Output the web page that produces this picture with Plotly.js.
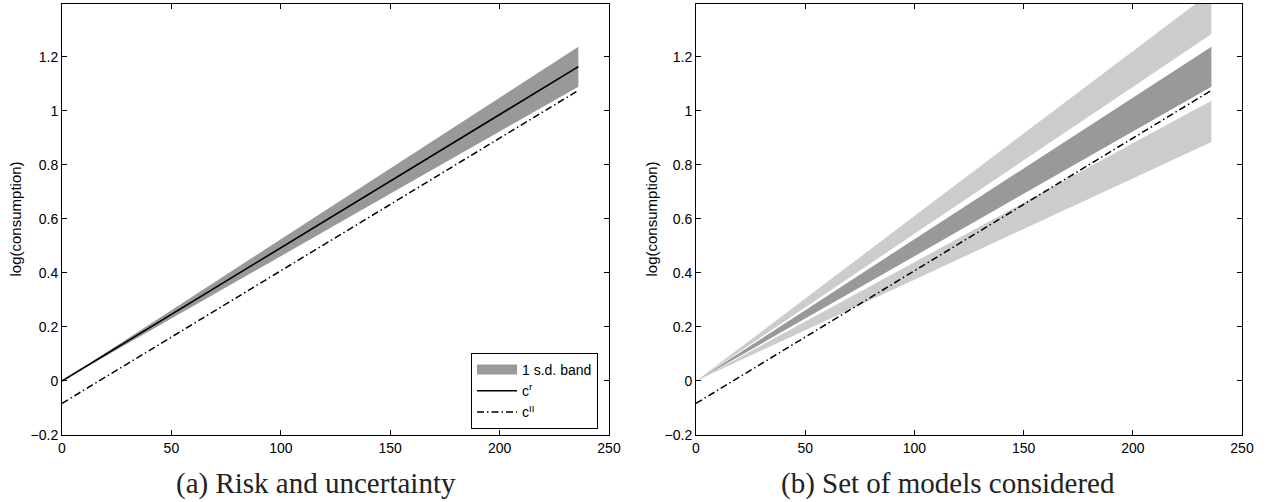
<!DOCTYPE html>
<html>
<head>
<meta charset="utf-8">
<script src="https://cdn.plot.ly/plotly-3.0.1.min.js"></script>
<style>html,body{margin:0;padding:0;background:#fff;}#chart{width:1271px;height:502px;}</style>
</head>
<body>
<div id="chart"></div>
<script>
// Time (periods)
const x = [0, 50, 100, 150, 200, 236];
// Panel (a): risk and uncertainty
const cR = [0, 0.247, 0.493, 0.740, 0.986, 1.164];
const sdUpper = [0, 0.262, 0.525, 0.787, 1.049, 1.238];
const sdLower = [0, 0.231, 0.462, 0.693, 0.924, 1.090];
const cII = [-0.083, 0.162, 0.408, 0.653, 0.899, 1.076];
// Panel (b): set of models considered
const wideUpperTop = [0, 0.305, 0.611, 0.916, 1.221, 1.441];
const wideUpperBottom = [0, 0.272, 0.545, 0.817, 1.089, 1.285];
const wideLowerTop = [0, 0.220, 0.440, 0.660, 0.880, 1.038];
const wideLowerBottom = [0, 0.188, 0.375, 0.563, 0.750, 0.885];
// Tick labels
const yTicks = [-0.2, 0, 0.2, 0.4, 0.6, 0.8, 1, 1.2];
const yTickText = ['\u22120.2', '0', '0.2', '0.4', '0.6', '0.8', '1', '1.2'];
const xTicks = [0, 50, 100, 150, 200, 250];
const captions = ['(a) Risk and uncertainty', '(b) Set of models considered'];
const yTitle = 'log(consumption)';
const legendNames = ['1 s.d. band', 'c<sup>r</sup>', 'c<sup>II</sup>'];

const DARK = '#999999', LIGHT = '#cccccc';
const dashDot = '7px,3px,1.5px,3px';

function band(up, lo, color, xa, ya) {
  return {
    x: x.concat(x.slice().reverse()),
    y: up.concat(lo.slice().reverse()),
    xaxis: xa, yaxis: ya,
    type: 'scatter', mode: 'none', fill: 'toself', fillcolor: color,
    showlegend: false, hoverinfo: 'skip'
  };
}

const traces = [
  band(sdUpper, sdLower, DARK, 'x', 'y'),
  // legend swatch for the band (thick patch like the reference)
  {x: [null], y: [null], xaxis: 'x', yaxis: 'y', type: 'scatter', mode: 'lines',
   line: {color: DARK, width: 12}, name: legendNames[0]},
  {x: x, y: cR, xaxis: 'x', yaxis: 'y', type: 'scatter', mode: 'lines',
   line: {color: '#000', width: 1.6}, name: legendNames[1]},
  {x: x, y: cII, xaxis: 'x', yaxis: 'y', type: 'scatter', mode: 'lines',
   line: {color: '#000', width: 1.5, dash: dashDot}, name: legendNames[2]},
  band(wideUpperTop, wideUpperBottom, LIGHT, 'x2', 'y2'),
  band(wideLowerTop, wideLowerBottom, LIGHT, 'x2', 'y2'),
  band(sdUpper, sdLower, DARK, 'x2', 'y2'),
  {x: x, y: cII, xaxis: 'x2', yaxis: 'y2', type: 'scatter', mode: 'lines',
   line: {color: '#000', width: 1.5, dash: dashDot}, showlegend: false}
];

const W = 1271;
const sans = 'Liberation Sans, Arial, sans-serif';
const tickFont = {family: sans, size: 14, color: '#000'};
function xAxis(domain, anchor) {
  return {domain: domain, anchor: anchor, range: [0, 250], tickvals: xTicks,
    ticks: 'inside', ticklen: 5, tickcolor: '#000', tickwidth: 1,
    showline: true, linecolor: '#000', linewidth: 1, mirror: 'ticks',
    showgrid: false, zeroline: false, tickfont: tickFont, fixedrange: true};
}
function yAxis(anchor) {
  return {domain: [0, 1], anchor: anchor, range: [-0.2, 1.396],
    tickvals: yTicks, ticktext: yTickText,
    ticks: 'inside', ticklen: 5, tickcolor: '#000', tickwidth: 1,
    showline: true, linecolor: '#000', linewidth: 1, mirror: 'ticks',
    showgrid: false, zeroline: false, tickfont: tickFont, fixedrange: true};
}

const capY = -(483 - 435) / 431;
const layout = {
  width: 1271, height: 502,
  margin: {l: 0, r: 0, t: 4, b: 67},
  paper_bgcolor: '#fff', plot_bgcolor: '#fff',
  xaxis: xAxis([62 / W, 609 / W], 'y'),
  yaxis: yAxis('x'),
  xaxis2: xAxis([696 / W, 1242 / W], 'y2'),
  yaxis2: yAxis('x2'),
  showlegend: true,
  legend: {
    x: 598 / W, xanchor: 'right', y: 0.014, yanchor: 'bottom',
    bgcolor: '#fff', bordercolor: '#000', borderwidth: 1,
    font: {family: sans, size: 14, color: '#000'},
    itemwidth: 40, tracegroupgap: 0
  },
  annotations: [
    {text: yTitle, xref: 'paper', yref: 'paper', x: 15 / W, y: 0.5, textangle: -90,
     showarrow: false, xanchor: 'center', yanchor: 'middle',
     font: {family: sans, size: 15, color: '#000'}},
    {text: yTitle, xref: 'paper', yref: 'paper', x: 651 / W, y: 0.5, textangle: -90,
     showarrow: false, xanchor: 'center', yanchor: 'middle',
     font: {family: sans, size: 15, color: '#000'}},
    {text: captions[0], xref: 'paper', yref: 'paper', x: 316 / W, y: capY,
     showarrow: false, xanchor: 'center', yanchor: 'middle',
     font: {family: 'Liberation Serif, DejaVu Serif, serif', size: 29, color: '#222'}},
    {text: captions[1], xref: 'paper', yref: 'paper', x: 948 / W, y: capY,
     showarrow: false, xanchor: 'center', yanchor: 'middle',
     font: {family: 'Liberation Serif, DejaVu Serif, serif', size: 29, color: '#222'}}
  ]
};

Plotly.newPlot('chart', traces, layout, {staticPlot: true, displayModeBar: false});
</script>
</body>
</html>
